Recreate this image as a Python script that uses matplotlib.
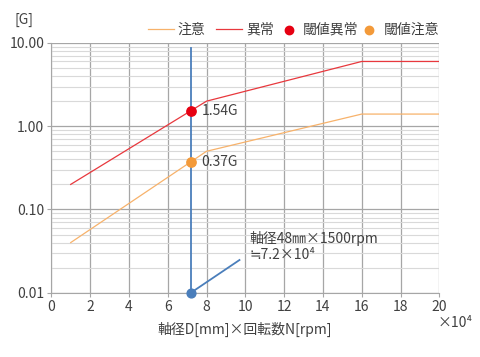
import matplotlib
matplotlib.use("Agg")
import matplotlib.pyplot as plt
from matplotlib.ticker import FixedLocator, LogLocator, NullFormatter

plt.rcParams['font.family'] = ['Noto Sans CJK JP', 'DejaVu Sans']

# data
caution_x = [1, 8, 16, 20]
caution_y = [0.04, 0.5, 1.4, 1.4]
alarm_x = [1, 8, 16, 20]
alarm_y = [0.2, 2.0, 6.0, 6.0]
dn_value = 7.2
alarm_point = 1.54
caution_point = 0.37
marker_bottom = 0.01
vline_top = 8.8
leader_end = (9.7, 0.0247)
x_ticks = [0, 2, 4, 6, 8, 10, 12, 14, 16, 18, 20]
y_ticks = [0.01, 0.1, 1, 10]
y_ticklabels = ['0.01', '0.10', '1.00', '10.00']

txt = '#404040'
fig = plt.figure(figsize=(4.8, 3.57), dpi=100)
ax = fig.add_axes([51.3/480, 1 - 292.7/357, 388/480, (292.7 - 43)/357])

ax.set_yscale('log')
ax.set_xlim(0, 20)
ax.set_ylim(0.01, 10)
ax.xaxis.set_major_locator(FixedLocator(x_ticks))
ax.yaxis.set_major_locator(FixedLocator(y_ticks))
ax.yaxis.set_minor_locator(LogLocator(base=10, subs=range(2, 10)))
ax.yaxis.set_minor_formatter(NullFormatter())
ax.set_yticklabels(y_ticklabels)

ax.grid(True, which='major', color='#a6a6a6', lw=0.9)
ax.grid(True, which='minor', axis='y', color='#d9d9d9', lw=0.8)
ax.set_axisbelow(True)
for s in ['top', 'right']:
    ax.spines[s].set_visible(False)
for s in ['left', 'bottom']:
    ax.spines[s].set_color('#a6a6a6')
ax.tick_params(which='major', length=3, color='#a6a6a6', labelsize=10, labelcolor=txt, pad=2)
ax.tick_params(which='minor', length=0)

l1, = ax.plot(caution_x, caution_y, color='#f7b26b', lw=0.9, label='注意')
l2, = ax.plot(alarm_x, alarm_y, color='#e8383d', lw=0.9, label='異常')

blue = '#4a7ebb'
ax.plot([dn_value, dn_value], [marker_bottom, vline_top], color=blue, lw=1.3, zorder=3)
ax.plot([dn_value, leader_end[0]], [marker_bottom, leader_end[1]], color=blue, lw=1.3, zorder=3)
ax.scatter([dn_value], [marker_bottom], s=40, color=blue, zorder=5, clip_on=False)
p1 = ax.scatter([dn_value], [alarm_point], s=45, color='#e60012', zorder=5, label='閾値異常')
p2 = ax.scatter([dn_value], [caution_point], s=45, color='#f39a3a', zorder=5, label='閾値注意')

ax.text(7.75, alarm_point, f'{alarm_point:.2f}G', fontsize=10, color=txt, va='center')
ax.text(7.75, caution_point, f'{caution_point:.2f}G', fontsize=10, color=txt, va='center')
ax.text(10.2, 0.0358, '軸径48㎜×1500rpm\n≒7.2×10⁴', fontsize=10, color=txt,
        va='center', linespacing=1.15)

# legend in two parts so the dot entries stay narrow
leg1 = ax.legend(handles=[l1, l2], loc='lower left', bbox_to_anchor=(0.249, 1.025), ncol=2,
                 frameon=False, fontsize=10, labelcolor=txt, handlelength=1.85,
                 handletextpad=0.3, columnspacing=0.75, borderaxespad=0, borderpad=0)
ax.add_artist(leg1)
ax.legend(handles=[p1, p2], loc='lower left', bbox_to_anchor=(0.598, 1.025), ncol=2,
          frameon=False, fontsize=10, labelcolor=txt, handlelength=0.8,
          handletextpad=0.6, columnspacing=0.4, borderaxespad=0, borderpad=0,
          markerscale=0.9)

fig.text(15/480, 1 - 20/357, '[G]', fontsize=10, color=txt, va='center')
fig.text(245/480, 1 - 329/357, '軸径D[mm]×回転数N[rpm]', fontsize=10, color=txt,
         ha='center', va='center')
fig.text(438/480, 1 - 323/357, '×10⁴', fontsize=10, color=txt, va='center')

fig.savefig('out.png', dpi=100)
